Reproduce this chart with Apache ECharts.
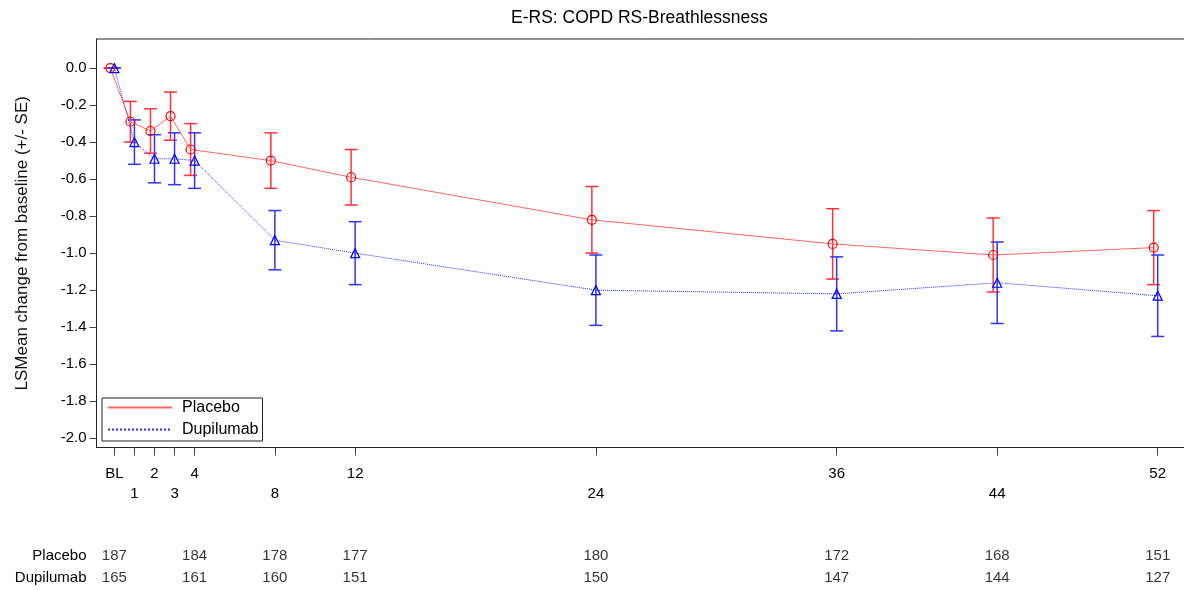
<!DOCTYPE html>
<html>
<head>
<meta charset="utf-8">
<script src="https://cdn.jsdelivr.net/npm/echarts@6/dist/echarts.min.js"></script>
<style>
  html, body { margin: 0; padding: 0; background: #fff; }
  #main { width: 1184px; height: 590px; }
</style>
</head>
<body>
<div id="main"></div>
<script>
var chartDom = document.getElementById('main');
var myChart = echarts.init(chartDom);
var option;

const FONT = "'Liberation Sans', Arial, sans-serif";
const redLine = '#ff6666';
const redMark = '#ff0000';
const blueLine = '#2a2aff';
const blueMark = '#0000ff';

// visit weeks and their axis labels
const weeks = [0, 1, 2, 3, 4, 8, 12, 24, 36, 44, 52];
const weekLabels = ['BL', '1', '2', '3', '4', '8', '12', '24', '36', '44', '52'];
const secondRowWeeks = [1, 3, 8, 24, 44];

// LS mean change from baseline and +/- SE limits
const placeboMean = [0, -0.29, -0.34, -0.26, -0.44, -0.50, -0.59, -0.82, -0.95, -1.01, -0.97];
const placeboLow  = [0, -0.40, -0.46, -0.39, -0.58, -0.65, -0.74, -1.00, -1.14, -1.21, -1.17];
const placeboHigh = [0, -0.18, -0.22, -0.13, -0.30, -0.35, -0.44, -0.64, -0.76, -0.81, -0.77];

const dupMean = [0, -0.40, -0.49, -0.49, -0.50, -0.93, -1.00, -1.20, -1.22, -1.16, -1.23];
const dupLow  = [0, -0.52, -0.62, -0.63, -0.65, -1.09, -1.17, -1.39, -1.42, -1.38, -1.45];
const dupHigh = [0, -0.28, -0.36, -0.35, -0.35, -0.77, -0.83, -1.01, -1.02, -0.94, -1.01];

// patients at risk table
const tableWeeks = [0, 4, 8, 12, 24, 36, 44, 52];
const placeboN = [187, 184, 178, 177, 180, 172, 168, 151];
const dupN     = [165, 161, 160, 151, 150, 147, 144, 127];

const yTicks = [0, -0.2, -0.4, -0.6, -0.8, -1.0, -1.2, -1.4, -1.6, -1.8, -2.0];

// placebo markers are drawn slightly left of the visit tick
const PLACEBO_DODGE = -0.2;
const X_MIN = -0.89;
const X_MAX = 53.41;

function errorBars(name, xs, lows, highs, color) {
  return {
    type: 'custom',
    name: name,
    xAxisIndex: 0,
    yAxisIndex: 0,
    z: 1,
    data: xs.map((x, i) => [x, lows[i], highs[i]]),
    encode: { x: 0, y: [1, 2] },
    renderItem: function (params, api) {
      const top = api.coord([api.value(0), api.value(2)]);
      const bot = api.coord([api.value(0), api.value(1)]);
      const half = 6.5;
      const style = { stroke: color, lineWidth: 1.5 };
      return {
        type: 'group',
        children: [
          { type: 'line', shape: { x1: top[0], y1: top[1], x2: bot[0], y2: bot[1] }, style: style },
          { type: 'line', shape: { x1: top[0] - half, y1: top[1], x2: top[0] + half, y2: top[1] }, style: style },
          { type: 'line', shape: { x1: bot[0] - half, y1: bot[1], x2: bot[0] + half, y2: bot[1] }, style: style }
        ]
      };
    }
  };
}

function tableRow(rowName, counts) {
  return {
    type: 'scatter',
    xAxisIndex: 1,
    yAxisIndex: 1,
    symbol: 'circle',
    symbolSize: 1,
    itemStyle: { color: 'rgba(0,0,0,0)' },
    silent: true,
    data: tableWeeks.map((w, i) => [w, rowName, counts[i]]),
    label: {
      show: true,
      position: 'inside',
      formatter: p => String(p.value[2]),
      color: '#000',
      fontSize: 15,
      fontFamily: FONT
    }
  };
}

const placeboX = weeks.map(w => w + PLACEBO_DODGE);

option = {
  animation: false,
  backgroundColor: '#fff',
  textStyle: { fontFamily: FONT },
  title: {
    text: 'E-RS: COPD RS-Breathlessness',
    left: 511,
    top: 9,
    padding: 0,
    textStyle: { fontSize: 17.5, fontWeight: 'normal', color: '#000', fontFamily: FONT }
  },
  legend: {
    orient: 'vertical',
    left: 102,
    top: 398,
    padding: [1, 4, 3, 5],
    itemWidth: 64,
    itemHeight: 10,
    itemGap: 5,
    borderColor: '#222',
    borderWidth: 1,
    itemStyle: { opacity: 0 },
    data: ['Placebo', 'Dupilumab'],
    textStyle: { fontSize: 16, color: '#000', fontFamily: FONT, lineHeight: 17, padding: [0, 0, 0, 5] }
  },
  grid: [
    {
      left: 96.5, right: -2, top: 39, bottom: 142.5,
      show: true, borderColor: '#222', borderWidth: 1,
      outerBoundsMode: 'none'
    },
    {
      left: 96.5, right: -2, top: 545, height: 44,
      outerBoundsMode: 'none'
    }
  ],
  xAxis: [
    {
      type: 'value',
      gridIndex: 0,
      min: X_MIN,
      max: X_MAX,
      splitLine: { show: false },
      axisLine: { show: true, onZero: false, lineStyle: { color: '#222', width: 1 } },
      axisTick: { show: true, length: 8, customValues: weeks, lineStyle: { color: '#444' } },
      axisLabel: {
        customValues: weeks,
        margin: 16,
        fontSize: 15,
        lineHeight: 20,
        color: '#000',
        fontFamily: FONT,
        formatter: function (v) {
          const w = Math.round(v);
          const lab = weekLabels[weeks.indexOf(w)];
          return secondRowWeeks.indexOf(w) >= 0 ? '\n' + lab : lab;
        }
      }
    },
    {
      type: 'value',
      gridIndex: 1,
      min: X_MIN,
      max: X_MAX,
      show: false
    }
  ],
  yAxis: [
    {
      type: 'value',
      gridIndex: 0,
      min: -2.05,
      max: 0.157,
      name: 'LSMean change from baseline (+/- SE)',
      nameLocation: 'middle',
      nameGap: 66,
      nameTextStyle: { fontSize: 17, color: '#111', fontFamily: FONT },
      splitLine: { show: false },
      axisLine: { show: true, onZero: false, lineStyle: { color: '#222', width: 1 } },
      axisTick: { show: true, length: 7, customValues: yTicks, lineStyle: { color: '#444' } },
      axisLabel: {
        customValues: yTicks,
        margin: 10,
        fontSize: 15,
        color: '#000',
        fontFamily: FONT,
        formatter: v => v.toFixed(1)
      }
    },
    {
      type: 'category',
      gridIndex: 1,
      inverse: true,
      data: ['Placebo', 'Dupilumab'],
      axisLine: { show: false },
      axisTick: { show: false },
      splitLine: { show: false },
      axisLabel: { margin: 10, fontSize: 15, color: '#000', fontFamily: FONT }
    }
  ],
  series: [
    {
      name: 'Placebo',
      type: 'line',
      xAxisIndex: 0,
      yAxisIndex: 0,
      z: 3,
      data: placeboX.map((x, i) => [x, placeboMean[i]]),
      symbol: 'circle',
      symbolSize: 9,
      lineStyle: { color: redLine, width: 1 },
      itemStyle: { color: 'rgba(0,0,0,0)', borderColor: redMark, borderWidth: 1.2 }
    },
    {
      name: 'Dupilumab',
      type: 'line',
      xAxisIndex: 0,
      yAxisIndex: 0,
      z: 3,
      data: weeks.map((x, i) => [x, dupMean[i]]),
      symbol: 'triangle',
      symbolSize: 9,
      lineStyle: { color: blueLine, width: 1, type: 'dotted' },
      itemStyle: { color: 'rgba(0,0,0,0)', borderColor: blueMark, borderWidth: 1.2 }
    },
    errorBars('Placebo SE', placeboX, placeboLow, placeboHigh, '#ff3333'),
    errorBars('Dupilumab SE', weeks, dupLow, dupHigh, '#3333ff'),
    tableRow('Placebo', placeboN),
    tableRow('Dupilumab', dupN)
  ]
};

option && myChart.setOption(option);
</script>
</body>
</html>
